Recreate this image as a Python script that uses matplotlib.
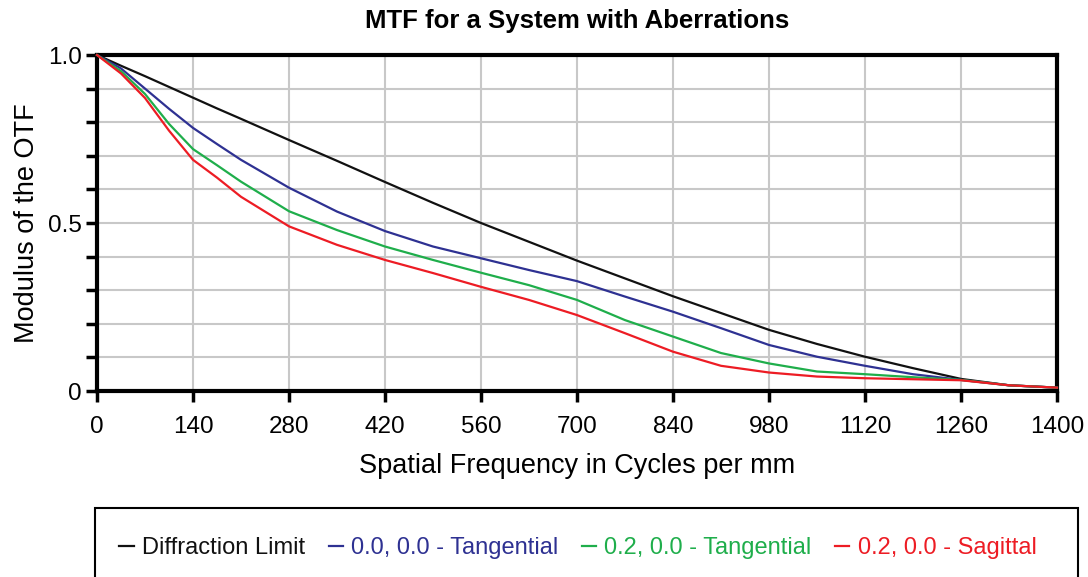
import matplotlib
matplotlib.use("Agg")
import matplotlib.pyplot as plt
from matplotlib.patches import Rectangle

# values
freq = [0, 35, 70, 105, 140, 175, 210, 280, 350, 420, 490, 560, 630, 700,
        770, 840, 910, 980, 1050, 1120, 1190, 1260, 1330, 1400]
diffraction = [1.0, 0.968, 0.937, 0.905, 0.873, 0.841, 0.81, 0.747, 0.685, 0.622,
               0.56, 0.5, 0.444, 0.388, 0.335, 0.282, 0.232, 0.182, 0.14, 0.102,
               0.068, 0.036, 0.017, 0.01]
tan_00 = [1.0, 0.96, 0.90, 0.84, 0.783, 0.735, 0.688, 0.605, 0.534, 0.476,
          0.43, 0.395, 0.36, 0.327, 0.281, 0.236, 0.187, 0.137, 0.102, 0.075,
          0.05, 0.033, 0.017, 0.01]
tan_02 = [1.0, 0.952, 0.884, 0.795, 0.72, 0.672, 0.623, 0.535, 0.479, 0.43,
          0.39, 0.352, 0.315, 0.271, 0.211, 0.162, 0.113, 0.082, 0.058, 0.05,
          0.041, 0.033, 0.017, 0.01]
sag_02 = [1.0, 0.945, 0.872, 0.775, 0.688, 0.635, 0.578, 0.49, 0.435, 0.39,
          0.351, 0.31, 0.271, 0.226, 0.172, 0.117, 0.075, 0.055, 0.043, 0.038,
          0.035, 0.032, 0.017, 0.01]

labels = ["Diffraction Limit", "0.0, 0.0 - Tangential",
          "0.2, 0.0 - Tangential", "0.2, 0.0 - Sagittal"]
colors = ["#111111", "#2e3192", "#1fae4b", "#ed1c24"]
xticks = list(range(0, 1401, 140))

plt.rcParams['font.family'] = ['Liberation Sans', 'DejaVu Sans']

fig = plt.figure(figsize=(10.88, 5.77), dpi=100)
ax = fig.add_axes([97/1088, 1-391/577, (1057-97)/1088, (391-55)/577])

lines = []
for ys, c in zip([diffraction, tan_00, tan_02, sag_02], colors):
    ln, = ax.plot(freq, ys, color=c, lw=1.6, zorder=3, clip_on=False)
    lines.append(ln)

ax.set_xlim(0, 1400)
ax.set_ylim(0, 1.0)
ax.set_xticks(xticks)
ax.set_xticklabels([str(v) for v in xticks])
ax.set_yticks([0, 0.5, 1.0])
ax.set_yticklabels(["0", "0.5", "1.0"])
ax.set_yticks([i/10 for i in range(11)], minor=True)
ax.grid(True, which='both', color='#c8c8c8', lw=1.5, zorder=0)
ax.set_axisbelow(True)
for s in ax.spines.values():
    s.set_linewidth(3)
ax.tick_params(which='both', direction='out', length=8, width=2.5, labelsize=17.5)
ax.tick_params(axis='x', pad=10)
ax.tick_params(axis='y', pad=3)

fig.text(577/1088, 1-21/577, "MTF for a System with Aberrations", fontsize=18.5,
         fontweight='bold', ha='center', va='center')
ax.set_xlabel("Spatial Frequency in Cycles per mm", fontsize=19.5, labelpad=11)
ax.set_ylabel("Modulus of the OTF", fontsize=19.5, labelpad=6)

# legend box runs off the bottom of the image
fig.add_artist(Rectangle((95/1088, -0.1), (1078-95)/1088, (577-508)/577 + 0.1,
                         transform=fig.transFigure, fill=False, lw=1.5, ec='black'))
leg = fig.legend(lines, labels, loc='center', bbox_to_anchor=(578/1088, 1-548/577),
                 ncol=4, frameon=False, fontsize=17, handlelength=0.6,
                 handletextpad=0.35, columnspacing=1.0)
for t, c in zip(leg.get_texts(), colors):
    t.set_color(c)

fig.savefig("out.png", dpi=100)
